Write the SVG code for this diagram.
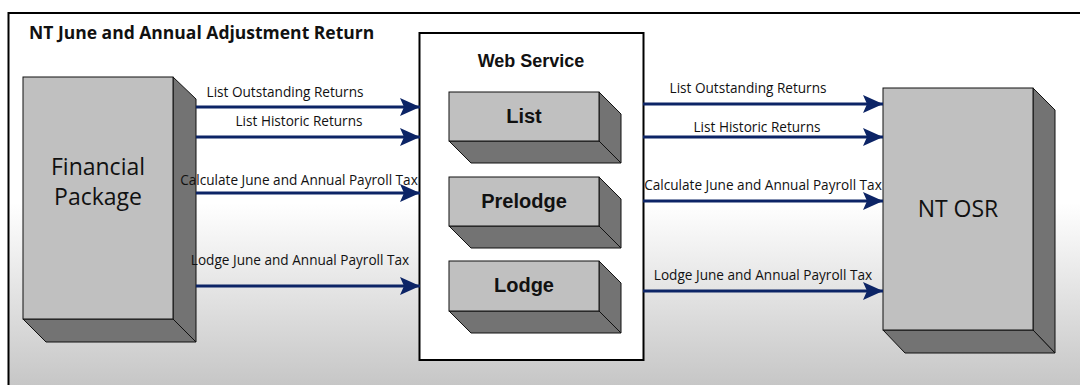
<svg xmlns="http://www.w3.org/2000/svg" width="1080" height="385" viewBox="0 0 1080 385">
<defs>
<linearGradient id="bg" x1="0" y1="0" x2="0" y2="1">
<stop offset="0" stop-color="#ffffff"/>
<stop offset="0.5" stop-color="#ffffff"/>
<stop offset="1" stop-color="#c4c4c4"/>
</linearGradient>
<marker id="ah" viewBox="0 0 20 18" refX="20" refY="9" markerWidth="20" markerHeight="18" markerUnits="userSpaceOnUse" orient="auto">
<path d="M0,0 L20,9 L0,18 L4,9 Z" fill="#0c2466"/>
</marker>
<style>
.front{fill:#c0c0c0;stroke:#111;stroke-width:1}
.side{fill:#737373;stroke:#111;stroke-width:1}
.conn{stroke:#0c2466;stroke-width:3;fill:none;marker-end:url(#ah)}
.lbl{font-family:"Open Sans","Liberation Sans",Arial,sans-serif;font-size:13.6px;fill:#111;text-anchor:middle}
.big{font-family:"Open Sans","Liberation Sans",sans-serif;font-size:23px;fill:#111;text-anchor:middle}
.bold{font-family:"Liberation Sans",Arial,sans-serif;font-weight:bold;fill:#111;text-anchor:middle}
</style>
</defs>
<rect x="0" y="0" width="1080" height="385" fill="#fff"/>
<rect id="frame" x="8.5" y="13" width="1080" height="380" fill="url(#bg)" stroke="#000" stroke-width="2"/>
<text x="29" y="39" font-family="Open Sans,Liberation Sans,sans-serif" font-weight="bold" font-size="17.5" fill="#111">NT June and Annual Adjustment Return</text>

<g id="financial-package">
<polygon class="side" points="173,77 196,99 196,342 173,319"/>
<polygon class="side" points="23,319 173,319 196,342 46,342"/>
<rect class="front" x="23" y="77" width="150" height="242"/>
<text class="big" x="98" y="175">Financial</text>
<text class="big" x="98" y="205">Package</text>
</g>

<g id="web-service">
<rect x="419.5" y="33" width="224" height="327" fill="#fff" stroke="#000" stroke-width="2"/>
<text class="bold" x="531" y="67" font-size="18">Web Service</text>
</g>

<g id="list">
<polygon class="side" points="599,92 621,114 621,163 599,141"/>
<polygon class="side" points="449,141 599,141 621,163 471,163"/>
<rect class="front" x="449" y="92" width="150" height="49"/>
<text class="bold" x="524" y="123" font-size="20">List</text>
</g>

<g id="prelodge">
<polygon class="side" points="599,177 621,199 621,248 599,226"/>
<polygon class="side" points="449,226 599,226 621,248 471,248"/>
<rect class="front" x="449" y="177" width="150" height="49"/>
<text class="bold" x="524" y="208" font-size="20">Prelodge</text>
</g>

<g id="lodge">
<polygon class="side" points="599,261 621,283 621,333 599,311"/>
<polygon class="side" points="449,311 599,311 621,333 471,333"/>
<rect class="front" x="449" y="261" width="150" height="50"/>
<text class="bold" x="524" y="292" font-size="20">Lodge</text>
</g>

<g id="nt-osr">
<polygon class="side" points="1033,88 1055,110 1055,353 1033,330"/>
<polygon class="side" points="883,330 1033,330 1055,353 905,353"/>
<rect class="front" x="883" y="88" width="150" height="242"/>
<text class="big" x="958" y="217">NT OSR</text>
</g>

<g id="connectors">
<line class="conn" x1="196" y1="107" x2="420" y2="107"/>
<line class="conn" x1="196" y1="137" x2="420" y2="137"/>
<line class="conn" x1="196" y1="193" x2="420" y2="193"/>
<line class="conn" x1="196" y1="286" x2="420" y2="286"/>
<line class="conn" x1="643" y1="104" x2="883" y2="104"/>
<line class="conn" x1="643" y1="137" x2="883" y2="137"/>
<line class="conn" x1="643" y1="201" x2="883" y2="201"/>
<line class="conn" x1="643" y1="291" x2="883" y2="291"/>
<text class="lbl" x="285" y="97">List Outstanding Returns</text>
<text class="lbl" x="299" y="126">List Historic Returns</text>
<text class="lbl" x="299" y="185">Calculate June and Annual Payroll Tax</text>
<text class="lbl" x="300" y="265">Lodge June and Annual Payroll Tax</text>
<text class="lbl" x="748" y="93">List Outstanding Returns</text>
<text class="lbl" x="757" y="132">List Historic Returns</text>
<text class="lbl" x="763" y="190">Calculate June and Annual Payroll Tax</text>
<text class="lbl" x="763" y="280">Lodge June and Annual Payroll Tax</text>
</g>
</svg>
